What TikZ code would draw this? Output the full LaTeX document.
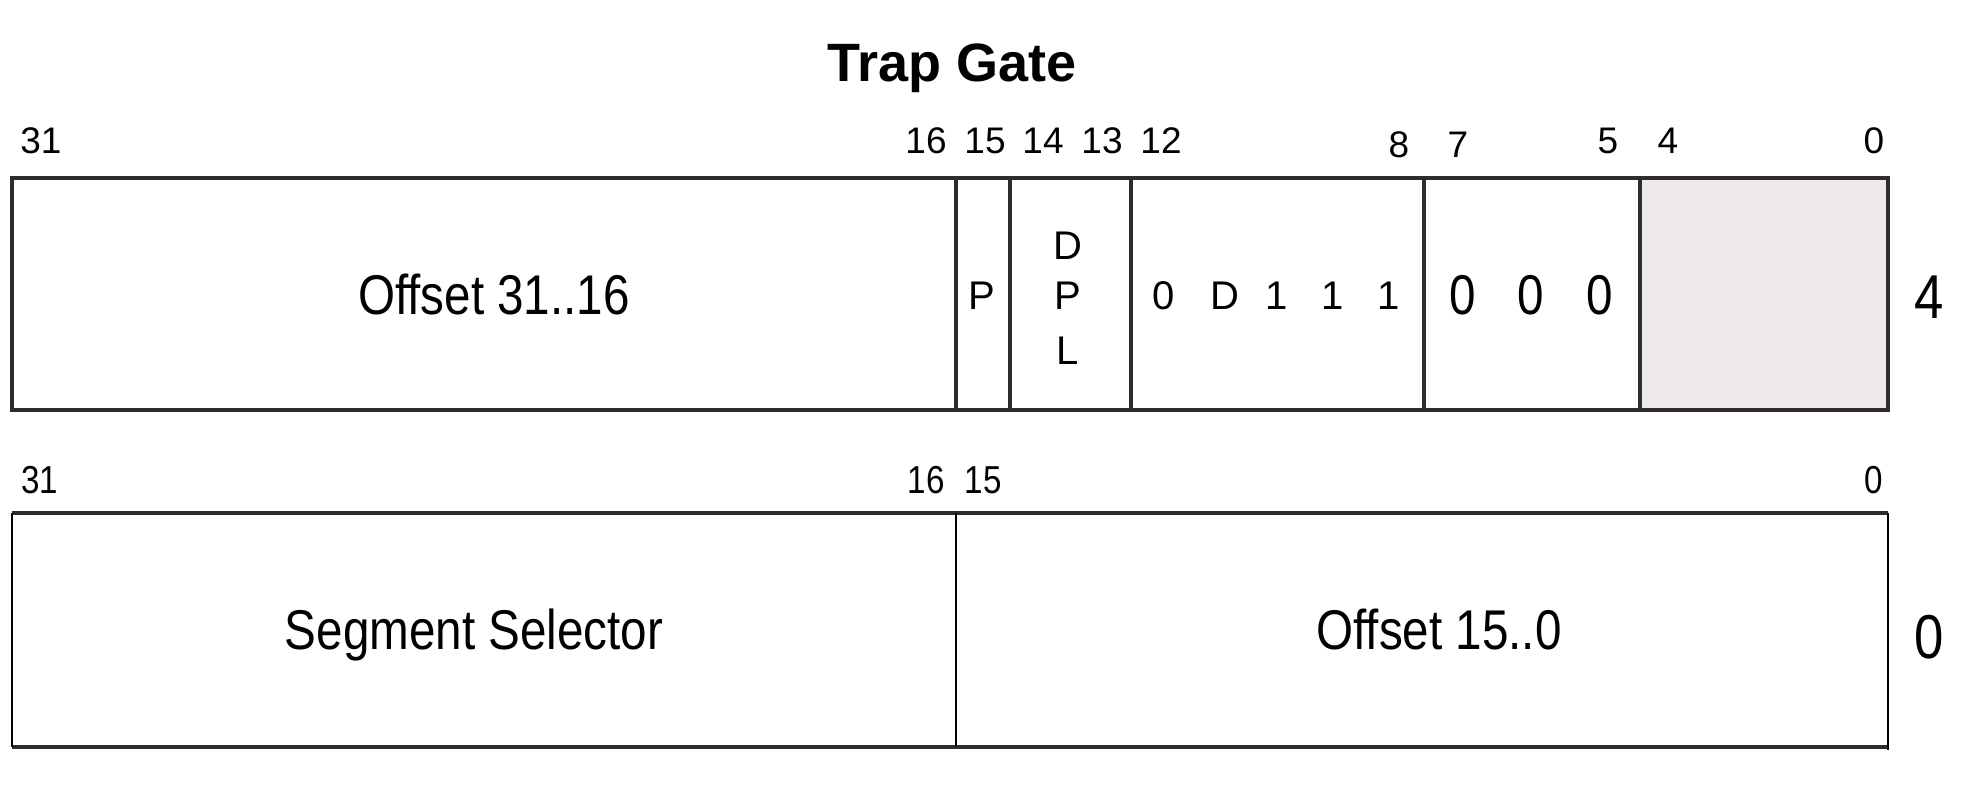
\documentclass[tikz,border=0pt]{standalone}
\usepackage{fontspec}
\setmainfont{Liberation Sans}
\newfontfamily\narrowfont[FakeStretch=0.85]{Liberation Sans}
\definecolor{gatefill}{RGB}{239,233,238}
\definecolor{linecol}{RGB}{45,45,45}
\begin{document}
\begin{tikzpicture}[x=0.5pt,y=-0.5pt,
  heavyline/.style={line width=1.8pt, draw=linecol},
  lightline/.style={line width=1.2pt, draw=black},
  bitlbl/.style={inner sep=0pt, anchor=base, font=\fontsize{18.5}{18.5}\selectfont},
  nbitlbl/.style={inner sep=0pt, anchor=base, font=\narrowfont\fontsize{19.5}{19.5}\selectfont},
  bigtxt/.style={inner sep=0pt, anchor=base, font=\narrowfont\fontsize{28}{28}\selectfont},
  rowtxt/.style={inner sep=0pt, anchor=base, font=\narrowfont\fontsize{31}{31}\selectfont},
  flagtxt/.style={inner sep=0pt, anchor=base, font=\fontsize{20}{20}\selectfont},
  titletxt/.style={inner sep=0pt, anchor=base, font=\bfseries\fontsize{27}{27}\selectfont},
]
\useasboundingbox (0,0) rectangle (1962,801);

% title
\node[titletxt] (title) at (952,82) {Trap Gate};

% ---------- upper doubleword (offset 4) ----------
\fill[gatefill] (1640,178) rectangle (1888,410);
\draw[heavyline] (12,178) rectangle (1888,410);
\foreach \x in {956,1010,1131,1424,1640} \draw[heavyline] (\x,178) -- (\x,410);

\node[bitlbl] (u31) at (41,154) {31};
\node[bitlbl] (u16) at (926,154) {16};
\node[bitlbl] (u15) at (985,154) {15};
\node[bitlbl] (u14) at (1043,154) {14};
\node[bitlbl] (u13) at (1102,154) {13};
\node[bitlbl] (u12) at (1161,154) {12};
\node[bitlbl] (u8) at (1399,158) {8};
\node[bitlbl] (u7) at (1458,158) {7};
\node[bitlbl] (u5) at (1608,154) {5};
\node[bitlbl] (u4) at (1668,154) {4};
\node[bitlbl] (u0) at (1874,154) {0};

\node[bigtxt] (offhi) at (494,315) {Offset 31..16};
\node[flagtxt] (pflag) at (982,309.5) {P};
\node[flagtxt] (dplD) at (1068,259.5) {D};
\node[flagtxt] (dplP) at (1068,309.5) {P};
\node[flagtxt] (dplL) at (1068,364.5) {L};
\node[flagtxt] (t0) at (1164,309.5) {0};
\node[flagtxt] (tD) at (1225,309.5) {D};
\node[flagtxt] (t1a) at (1277,309.5) {1};
\node[flagtxt] (t1b) at (1333,309.5) {1};
\node[flagtxt] (t1c) at (1389,309.5) {1};
\node[bigtxt] (z1) at (1463,315) {0};
\node[bigtxt] (z2) at (1531,315) {0};
\node[bigtxt] (z3) at (1600,315) {0};
\node[rowtxt] (row4) at (1929,319) {4};

% ---------- lower doubleword (offset 0) ----------
\draw[heavyline] (12,513) -- (1888,513);
\draw[heavyline] (12,747) -- (1888,747);
\draw[lightline] (12,513) -- (12,747);
\draw[lightline] (956,513) -- (956,747);
\draw[lightline] (1888,513) -- (1888,750);

\node[nbitlbl] (l31) at (40,493) {31};
\node[nbitlbl] (l16) at (926,493) {16};
\node[nbitlbl] (l15) at (983,493) {15};
\node[nbitlbl] (l0) at (1874,493) {0};

\node[bigtxt] (segsel) at (474,649) {Segment Selector};
\node[bigtxt] (offlo) at (1439,649) {Offset 15..0};
\node[rowtxt] (row0) at (1929,658) {0};
\end{tikzpicture}
\end{document}
